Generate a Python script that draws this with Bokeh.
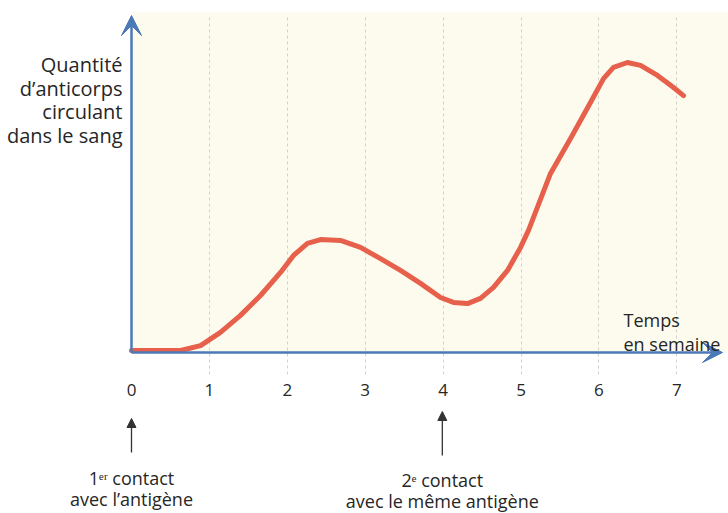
from bokeh.plotting import figure
from bokeh.models import (Range1d, Arrow, VeeHead, NormalHead, Label, FixedTicker,
                          LinearAxis, Grid, BoxAnnotation)
from bokeh.embed import file_html
from bokeh.resources import INLINE

# ---- data ----
weeks = [0, 0.63, 0.886, 1.142, 1.399, 1.656, 1.913, 2.08, 2.259, 2.426, 2.683,
         2.94, 3.196, 3.453, 3.71, 3.967, 4.133, 4.313, 4.48, 4.647, 4.827, 4.994,
         5.096, 5.379, 5.636, 5.892, 6.059, 6.187, 6.367, 6.534, 6.752, 6.958, 7.086]
antibodies = [0, 0, 1.7, 6.3, 12.2, 19.1, 27.1, 33.0, 37.2, 38.5, 38.2,
              35.8, 31.9, 27.8, 23.3, 18.4, 16.7, 16.3, 18.1, 21.9, 27.8, 35.8,
              41.7, 61.5, 73.6, 86.1, 94.4, 98.3, 100, 99, 95.5, 91.3, 88.5]
week_ticks = [0, 1, 2, 3, 4, 5, 6, 7]
tick_labels = ["0", "1", "2", "3", "4", "5", "6", "7"]
y_label_lines = ["Quantité", "d\u2019anticorps", "circulant", "dans le sang"]
x_label_lines = ["Temps", "en semaine"]
contact_weeks = [0, 3.99]
contact_titles = ["1\u1d49\u02b3 contact", "2\u1d49 contact"]
contact_details = ["avec l\u2019antigène", "avec le même antigène"]

FONT = "Open Sans"
BLUE = "#4b78b6"
RED = "#e6604c"
TXT = "#262626"
DARK = "#333333"

PX_X = 77.9   # pixels per week
PX_Y = 2.88   # pixels per unit
OX, OY = 131, 350   # pixel position of (0, 0)
W, H = 728, 513


def ux(px):
    return (px - OX) / PX_X


def vy(py):
    return (OY - py) / PX_Y


p = figure(width=W, height=H, x_range=Range1d(ux(0), ux(W)), y_range=Range1d(vy(H), vy(0)),
           output_backend="svg", toolbar_location=None,
           x_axis_location=None, y_axis_location=None,
           min_border=0, min_border_left=0, min_border_right=0,
           min_border_top=0, min_border_bottom=0)
p.background_fill_color = "white"
p.border_fill_color = "white"
p.outline_line_color = None
p.xgrid.grid_line_color = None
p.ygrid.grid_line_color = None

axis_level = vy(352)

# cream plotting area
p.add_layout(BoxAnnotation(left=0, bottom=axis_level, top=vy(12), fill_color="#fcfbee",
                           fill_alpha=1, line_color=None, level="underlay"))

# vertical dotted grid
grid = Grid(dimension=0, ticker=FixedTicker(ticks=week_ticks[1:]),
            cross_bounds=(vy(374), vy(16)), grid_line_color="#c6c6bc",
            grid_line_dash="3 3", grid_line_width=0.8)
p.add_layout(grid)

# x axis with tick labels
xaxis = LinearAxis(fixed_location=axis_level, ticker=FixedTicker(ticks=week_ticks),
                   major_label_overrides={t: s for t, s in zip(week_ticks, tick_labels)},
                   axis_line_color=None, major_tick_line_color=None,
                   minor_tick_line_color=None, major_label_standoff=25,
                   major_label_text_font=FONT, major_label_text_font_size="17px",
                   major_label_text_color=TXT)
p.add_layout(xaxis, "below")

# axis arrows
p.add_layout(Arrow(end=VeeHead(size=20, fill_color=BLUE, line_color=BLUE),
                   x_start=0, y_start=axis_level, x_end=ux(722), y_end=axis_level,
                   line_color=BLUE, line_width=2.5))
p.add_layout(Arrow(end=VeeHead(size=20, fill_color=BLUE, line_color=BLUE),
                   x_start=0, y_start=axis_level, x_end=0, y_end=vy(15),
                   line_color=BLUE, line_width=2.5))

# curve
p.line(weeks, antibodies, line_color=RED, line_width=5, line_cap="round", line_join="round")

# y label (right aligned, left of axis)
for i, t in enumerate(y_label_lines):
    p.add_layout(Label(x=ux(122), y=vy(64 + 23.5 * i), text=t,
                       text_align="right", text_baseline="alphabetic",
                       text_font=FONT, text_font_size="20px", text_color=TXT))

# x label
for i, t in enumerate(x_label_lines):
    p.add_layout(Label(x=ux(623), y=vy(319 + 24 * i), text=t,
                       text_align="left", text_baseline="alphabetic",
                       text_font=FONT, text_font_size="18px", text_color=TXT))

# contact arrows and texts
tips = [418, 411]
bottoms = [452, 455]
base1 = [477, 479]
base2 = [498, 500]
for w, tip, bot, b1, b2, t1, t2 in zip(contact_weeks, tips, bottoms, base1, base2,
                                       contact_titles, contact_details):
    p.add_layout(Arrow(end=NormalHead(size=9, fill_color=DARK, line_color=DARK),
                       x_start=w, y_start=vy(bot), x_end=w, y_end=vy(tip),
                       line_color=DARK, line_width=1.3))
    p.add_layout(Label(x=w, y=vy(b1), text=t1, text_align="center",
                       text_baseline="alphabetic", text_font=FONT, text_font_size="18px",
                       text_color=TXT))
    p.add_layout(Label(x=w, y=vy(b2), text=t2, text_align="center",
                       text_baseline="alphabetic", text_font=FONT, text_font_size="18px",
                       text_color=TXT))

open("out.html", "w").write(file_html(p, INLINE))
